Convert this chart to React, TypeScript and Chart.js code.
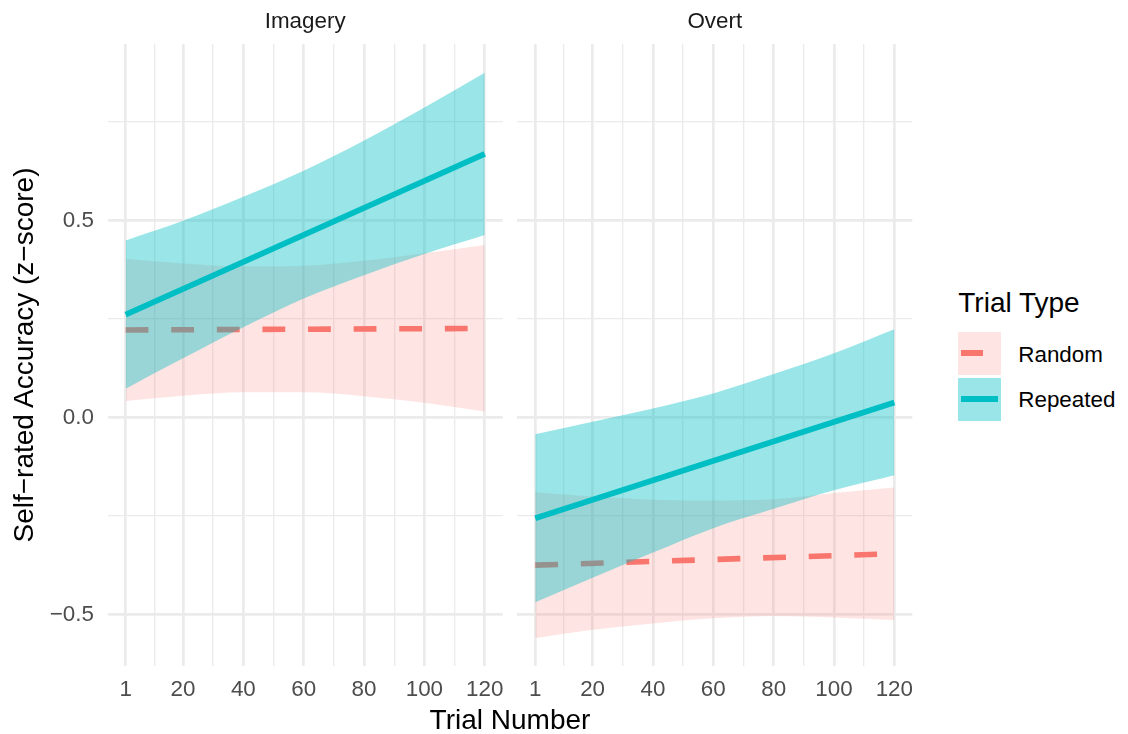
import React, { useEffect, useRef } from "react";
import { Chart, registerables } from "chart.js";

Chart.register(...registerables);

// ---------- data ----------
const trialPoints = [1, 20, 40, 60, 80, 100, 120];
const lineEnds = [1, 120];

const xMajorTicks = [1, 20, 40, 60, 80, 100, 120];
const xMinorTicks = [10.5, 30, 50, 70, 90, 110];
const yMajorTicks = [-0.5, 0, 0.5];
const yMajorLabels = ["\u22120.5", "0.0", "0.5"];
const yMinorTicks = [-0.25, 0.25, 0.75];

const panelTitles = ["Imagery", "Overt"];
const seriesNames = ["Random", "Repeated"];

// Imagery
const imageryRepeatedFit = [0.261, 0.669];
const imageryRepeatedUpper = [0.449, 0.499, 0.56, 0.626, 0.703, 0.787, 0.875];
const imageryRepeatedLower = [0.073, 0.15, 0.229, 0.302, 0.361, 0.415, 0.463];
const imageryRandomFit = [0.222, 0.226];
const imageryRandomUpper = [0.402, 0.391, 0.383, 0.385, 0.398, 0.417, 0.438];
const imageryRandomLower = [0.042, 0.055, 0.064, 0.064, 0.054, 0.037, 0.015];

// Overt
const overtRepeatedFit = [-0.256, 0.038];
const overtRepeatedUpper = [-0.043, -0.011, 0.023, 0.061, 0.11, 0.163, 0.224];
const overtRepeatedLower = [-0.469, -0.407, -0.343, -0.281, -0.232, -0.185, -0.147];
const overtRandomFit = [-0.375, -0.346];
const overtRandomUpper = [-0.19, -0.201, -0.209, -0.211, -0.208, -0.192, -0.178];
const overtRandomLower = [-0.56, -0.539, -0.523, -0.51, -0.504, -0.508, -0.514];

// ---------- styles ----------
const FONT = "'Liberation Sans', Arial, Helvetica, sans-serif";
const RED = "#F8766D";
const TEAL = "#00BFC4";
const RED_FILL = "rgba(248,118,109,0.2)";
const TEAL_FILL = "rgba(0,191,196,0.4)";
const GRID = "#EBEBEB";

type PanelData = {
  repFit: number[];
  repUpper: number[];
  repLower: number[];
  randFit: number[];
  randUpper: number[];
  randLower: number[];
};

const pts = (xs: number[], ys: number[]) => xs.map((x, i) => ({ x, y: ys[i] }));

function Panel(props: {
  data: PanelData;
  showY: boolean;
  left: number;
  width: number;
  padLeft: number;
  padRight: number;
}) {
  const ref = useRef<HTMLCanvasElement | null>(null);
  useEffect(() => {
    if (!ref.current) return;
    const d = props.data;
    const ribbon = {
      borderWidth: 0,
      borderColor: "rgba(0,0,0,0)",
      pointRadius: 0,
      pointHoverRadius: 0,
      cubicInterpolationMode: "monotone" as const,
    };
    const chart = new Chart(ref.current, {
      type: "line",
      data: {
        datasets: [
          {
            label: seriesNames[1],
            data: pts(lineEnds, d.repFit),
            borderColor: TEAL,
            borderWidth: 5.6,
            pointRadius: 0,
            pointHoverRadius: 0,
            fill: false,
            order: 0,
          },
          {
            label: seriesNames[1] + " upper",
            data: pts(trialPoints, d.repUpper),
            ...ribbon,
            backgroundColor: TEAL_FILL,
            fill: 2,
            order: 1,
          },
          {
            label: seriesNames[1] + " lower",
            data: pts(trialPoints, d.repLower),
            ...ribbon,
            fill: false,
            order: 1,
          },
          {
            label: seriesNames[0],
            data: pts(lineEnds, d.randFit),
            borderColor: RED,
            borderWidth: 5.6,
            borderDash: [22.8, 22.8],
            pointRadius: 0,
            pointHoverRadius: 0,
            fill: false,
            order: 2,
          },
          {
            label: seriesNames[0] + " upper",
            data: pts(trialPoints, d.randUpper),
            ...ribbon,
            backgroundColor: RED_FILL,
            fill: 5,
            order: 3,
          },
          {
            label: seriesNames[0] + " lower",
            data: pts(trialPoints, d.randLower),
            ...ribbon,
            fill: false,
            order: 3,
          },
        ],
      },
      options: {
        animation: false,
        responsive: false,
        events: [],
        layout: {
          padding: { top: 44, bottom: 0, left: props.padLeft, right: props.padRight },
        },
        plugins: {
          legend: { display: false },
          tooltip: { enabled: false },
          title: { display: false },
        },
        scales: {
          x: {
            type: "linear",
            min: -4.95,
            max: 125.95,
            border: { display: false },
            afterBuildTicks: (s: any) => {
              s.ticks = [...xMajorTicks, ...xMinorTicks]
                .sort((a, b) => a - b)
                .map((v) => ({ value: v }));
            },
            afterFit: (s: any) => {
              s.height = 44;
            },
            grid: {
              color: GRID,
              drawTicks: false,
              lineWidth: (ctx: any) =>
                ctx.tick && xMajorTicks.includes(ctx.tick.value) ? 2.7 : 1.35,
            },
            ticks: {
              autoSkip: false,
              maxRotation: 0,
              minRotation: 0,
              padding: 10.1,
              color: "#4D4D4D",
              font: { family: FONT, size: 22.4 },
              callback: (v: any) => (xMajorTicks.includes(Number(v)) ? String(v) : ""),
            },
          },
          y: {
            type: "linear",
            min: -0.631,
            max: 0.948,
            border: { display: false },
            afterBuildTicks: (s: any) => {
              s.ticks = [...yMajorTicks, ...yMinorTicks]
                .sort((a, b) => a - b)
                .map((v) => ({ value: v }));
            },
            afterFit: (s: any) => {
              s.width = props.showY ? 107.7 : 0;
            },
            grid: {
              color: GRID,
              drawTicks: false,
              lineWidth: (ctx: any) =>
                ctx.tick && yMajorTicks.includes(ctx.tick.value) ? 2.7 : 1.35,
            },
            ticks: {
              display: props.showY,
              autoSkip: false,
              padding: 13.7,
              color: "#4D4D4D",
              font: { family: FONT, size: 22.4 },
              callback: (v: any) => {
                const i = yMajorTicks.indexOf(Number(v));
                return i >= 0 ? yMajorLabels[i] : "";
              },
            },
          },
        },
      },
    } as any);
    return () => chart.destroy();
  }, []);
  return (
    <canvas
      ref={ref}
      width={props.width}
      height={710}
      style={{ position: "absolute", left: props.left, top: 0, width: props.width, height: 710 }}
    />
  );
}

const abs = (s: React.CSSProperties): React.CSSProperties => ({
  position: "absolute",
  lineHeight: 1,
  whiteSpace: "nowrap",
  fontFamily: FONT,
  ...s,
});

export default function App() {
  const imagery: PanelData = {
    repFit: imageryRepeatedFit,
    repUpper: imageryRepeatedUpper,
    repLower: imageryRepeatedLower,
    randFit: imageryRandomFit,
    randUpper: imageryRandomUpper,
    randLower: imageryRandomLower,
  };
  const overt: PanelData = {
    repFit: overtRepeatedFit,
    repUpper: overtRepeatedUpper,
    repLower: overtRepeatedLower,
    randFit: overtRandomFit,
    randUpper: overtRandomUpper,
    randLower: overtRandomLower,
  };
  return (
    <div
      style={{
        position: "absolute",
        left: 0,
        top: 0,
        width: 1128,
        height: 734,
        overflow: "hidden",
        background: "#fff",
        fontFamily: FONT,
      }}
    >
      <Panel data={imagery} showY={true} left={0} width={540} padLeft={0} padRight={37.3} />
      <Panel data={overt} showY={false} left={500} width={450} padLeft={17.3} padRight={37.7} />

      {/* strip titles */}
      <div style={abs({ left: 305.2, top: 9.6, fontSize: 22.4, color: "#1A1A1A", transform: "translateX(-50%)" })}>
        {panelTitles[0]}
      </div>
      <div style={abs({ left: 714.8, top: 9.6, fontSize: 22.4, color: "#1A1A1A", transform: "translateX(-50%)" })}>
        {panelTitles[1]}
      </div>

      {/* axis titles */}
      <div style={abs({ left: 510, top: 706.3, fontSize: 28, color: "#000", transform: "translateX(-50%)" })}>
        Trial Number
      </div>
      <div
        style={abs({
          left: 23.6 - 300,
          top: 355 - 14,
          width: 600,
          height: 28,
          textAlign: "center",
          fontSize: 28,
          color: "#000",
          transform: "rotate(-90deg)",
        })}
      >
        {"Self\u2212rated Accuracy (z\u2212score)"}
      </div>

      {/* legend */}
      <div style={abs({ left: 958.3, top: 288.6, fontSize: 28, color: "#000" })}>Trial Type</div>
      <div style={{ position: "absolute", left: 958.3, top: 331.7, width: 43, height: 43, background: RED_FILL }}>
        <div style={{ position: "absolute", left: 2.4, top: 18.8, width: 22.6, height: 5.6, background: RED }} />
      </div>
      <div style={{ position: "absolute", left: 958.3, top: 377.7, width: 43, height: 43, background: TEAL_FILL }}>
        <div style={{ position: "absolute", left: 2.4, top: 18.5, width: 37, height: 5.6, background: TEAL }} />
      </div>
      <div style={abs({ left: 1018.3, top: 343.7, fontSize: 22.4, color: "#000" })}>{seriesNames[0]}</div>
      <div style={abs({ left: 1018.3, top: 389.4, fontSize: 22.4, color: "#000" })}>{seriesNames[1]}</div>
    </div>
  );
}
